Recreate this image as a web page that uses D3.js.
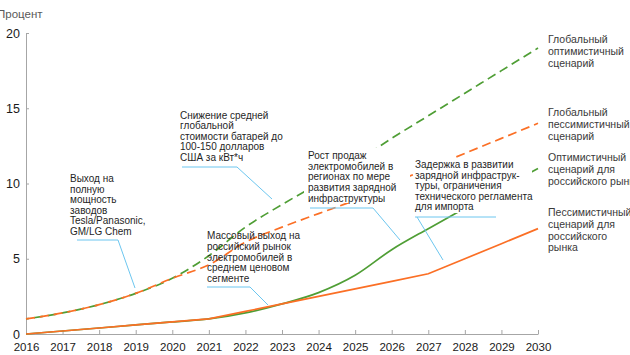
<!DOCTYPE html>
<html><head><meta charset="utf-8">
<script src="https://cdn.jsdelivr.net/npm/d3@7"></script>
<style>
html,body{margin:0;padding:0;background:#fff;}
svg{display:block;font-family:"Liberation Sans",Arial,sans-serif;}
</style></head>
<body><svg id="c" width="630" height="355"></svg>
<script>
// ---- data ----
const years = [2016,2017,2018,2019,2020,2021,2022,2023,2024,2025,2026,2027,2028,2029,2030];
const globalOptimistic  = [1.0,1.4,1.95,2.7,3.7,5.2,7.1,8.6,10.0,11.4,13.0,14.5,16.0,17.5,19.0];
const globalPessimistic = [1.0,1.4,1.95,2.7,3.7,4.6,6.1,7.1,8.0,8.9,10.0,11.0,12.0,13.0,14.0];
const russiaOptimistic  = [0,0.2,0.4,0.6,0.8,1.0,1.4,2.0,2.75,3.9,5.6,7.0,8.35,9.7,11.0];
const russiaPessimistic = [0,0.2,0.4,0.6,0.8,1.0,1.5,2.0,2.5,3.0,3.5,4.0,5.0,6.0,7.0];
const yTicks = [0,5,10,15,20];
const yAxisTitle = "Процент";
const seriesLabels = [
  ["Глобальный","оптимистичный","сценарий"],
  ["Глобальный","пессимистичный","сценарий"],
  ["Оптимистичный","сценарий для","российского рынка"],
  ["Пессимистичный","сценарий для","российского","рынка"]
];
const annotationTexts = [
  ["Выход на","полную","мощность","заводов","Tesla/Panasonic,","GM/LG Chem"],
  ["Снижение средней","глобальной","стоимости батарей до","100-150 долларов","США за кВт*ч"],
  ["Массовый выход на","российский рынок","электромобилей в","среднем ценовом","сегменте"],
  ["Рост продаж","электромобилей в","регионах по мере","развития зарядной","инфраструктуры"],
  ["Задержка в развитии","зарядной инфраструк-","туры, ограничения","технического регламента","для импорта"]
];

// ---- layout ----
const GREEN = "#4f9e35", ORANGE = "#fb6f25", BLUE = "#6cc6ef";
const svg = d3.select("#c");
const x = d3.scaleLinear().domain([2016,2030]).range([26,538]);
const y = d3.scaleLinear().domain([0,20]).range([334,33]);

// axes
const xAxis = d3.axisBottom(x).tickValues(years).tickFormat(d3.format("d")).tickSizeInner(-4).tickSizeOuter(0).tickPadding(9);
const gx = svg.append("g").attr("transform","translate(0,334)").call(xAxis);
gx.select(".domain").attr("stroke","#a6a6a6");
gx.selectAll(".tick line").attr("stroke","#a6a6a6");
gx.selectAll(".tick text").attr("font-size","11.5px").attr("fill","#1a1a1a").attr("font-family","Liberation Sans, Arial, sans-serif");

const yAxis = d3.axisLeft(y).tickValues(yTicks).tickSizeInner(-3).tickSizeOuter(0).tickPadding(6);
const gy = svg.append("g").attr("transform","translate(26,0)").call(yAxis);
gy.select(".domain").attr("stroke","#a6a6a6");
gy.selectAll(".tick line").attr("stroke","#a6a6a6");
gy.selectAll(".tick text").attr("font-size","12.5px").attr("fill","#1a1a1a").attr("font-family","Liberation Sans, Arial, sans-serif");

svg.append("text").attr("x",-3).attr("y",18).attr("font-size","11.5px").attr("fill","#595959").text(yAxisTitle);

// lines
function mkLine(vals, curve){
  return d3.line().x((d,i)=>x(years[i])).y(d=>y(d)).curve(curve)(vals);
}
svg.append("path").attr("d",mkLine(globalOptimistic,d3.curveMonotoneX))
  .attr("fill","none").attr("stroke",GREEN).attr("stroke-width",1.7).attr("stroke-dasharray","9,5").attr("stroke-dashoffset",6);
svg.append("path").attr("d",mkLine(globalPessimistic,d3.curveMonotoneX))
  .attr("fill","none").attr("stroke",ORANGE).attr("stroke-width",1.7).attr("stroke-dasharray","9,5");
svg.append("path").attr("d",mkLine(russiaOptimistic,d3.curveMonotoneX))
  .attr("fill","none").attr("stroke",GREEN).attr("stroke-width",1.7);
svg.append("path").attr("d",mkLine(russiaPessimistic,d3.curveLinear))
  .attr("fill","none").attr("stroke",ORANGE).attr("stroke-width",1.7);

// series labels on the right
const seriesLabelPos = [{x:548,y:43},{x:548,y:116},{x:548,y:161},{x:548,y:216}];
seriesLabels.forEach((lines,k)=>{
  const t = svg.append("text").attr("x",seriesLabelPos[k].x).attr("y",seriesLabelPos[k].y)
    .attr("font-size","10.5px").attr("fill","#3a3a3a");
  lines.forEach((s,i)=>t.append("tspan").attr("x",seriesLabelPos[k].x).attr("dy",i?11.8:0).text(s));
});

// annotations: white box, text, blue leader
const annLayout = [
  {tx:70, ty:182, step:10.5, box:null, leader:[[77,240],[118,240],[135,288]]},
  {tx:180,ty:118.5,step:10.5, box:null, leader:[[182,167],[237,167],[272,199]]},
  {tx:207,ty:239, step:10.8, box:null, leader:[[207,287],[250,287],[268,305]]},
  {tx:308,ty:159, step:10.7, box:[304,148,106,55], leader:[[310,208],[373,208],[400,240]]},
  {tx:415,ty:168, step:10.5, box:[414,158,118,55], leader:[[415,217],[496,217]], leader2:[[417,217],[443,260]]}
];
annLayout.forEach((a,k)=>{
  if(a.box) svg.append("rect").attr("x",a.box[0]).attr("y",a.box[1]).attr("width",a.box[2]).attr("height",a.box[3]).attr("fill","#fff");
});
annLayout.forEach((a,k)=>{
  const t = svg.append("text").attr("x",a.tx).attr("y",a.ty).attr("font-size","10px").attr("fill","#1f1f1f");
  annotationTexts[k].forEach((s,i)=>t.append("tspan").attr("x",a.tx).attr("dy",i?a.step:0).text(s));
  svg.append("path").attr("d",d3.line()(a.leader)).attr("fill","none").attr("stroke",BLUE).attr("stroke-width",1);
  if(a.leader2) svg.append("path").attr("d",d3.line()(a.leader2)).attr("fill","none").attr("stroke",BLUE).attr("stroke-width",1);
});
</script></body></html>
